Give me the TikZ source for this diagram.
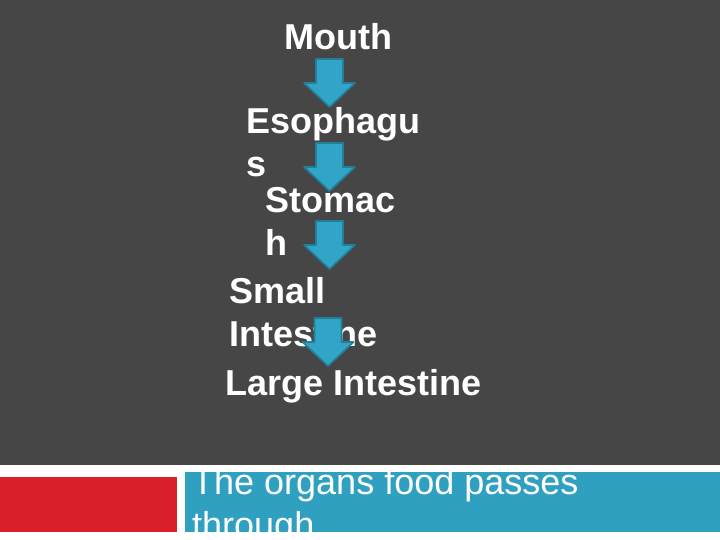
\documentclass[tikz,border=0pt]{standalone}
\usepackage{fontspec}
\setmainfont{Liberation Sans}
\definecolor{slidegray}{HTML}{464646}
\definecolor{arrowblue}{HTML}{31A5C8}
\definecolor{arrowedge}{HTML}{237F99}
\definecolor{barblue}{HTML}{2FA0C0}
\definecolor{barred}{HTML}{D9202A}
\tikzset{
  organ/.style={anchor=base west, inner sep=0pt, text=white, align=left,
    font=\fontsize{36}{43}\selectfont\bfseries},
  caption/.style={anchor=base west, inner sep=0pt, text=white, align=left,
    font=\fontsize{36}{43}\selectfont},
  blockarrow/.pic={
    \draw[fill=arrowblue, draw=arrowedge, line width=1.6pt, line join=round]
      (-13.5,0) -- (13.5,0) -- (13.5,24) -- (25.5,24) -- (0,48)
      -- (-25.5,24) -- (-13.5,24) -- cycle;
  }
}
\begin{document}
\begin{tikzpicture}[x=1pt,y=-1pt]
		\useasboundingbox (0,0) rectangle (720,540);
		%
		\fill[white] (0,0) rectangle (720,540);
		\fill[slidegray] (0,0) rectangle (720,465);
		\fill[barred] (0,477) rectangle (177,532);
		\fill[barblue] (185,472) rectangle (720,532);
		%
		% multi-line nodes: base is the last line
		\node[organ] (mouth) at (284,50) {Mouth};
		\node[organ] (esoph) at (246,177) {Esophagu\\s};
		\node[organ] (stom) at (265,255) {Stomac\\h};
		\node[organ] (small) at (229,346) {Small\\Intestine};
		\node[organ] (large) at (225,395) {Large Intestine};
		%
		\pic at (329.5,59) {blockarrow};
		\pic at (329.5,143) {blockarrow};
		\pic at (329.5,221) {blockarrow};
		\pic at (328,318) {blockarrow};
		%
		\begin{scope}
			\clip (185,465) rectangle (720,532);
			\node[caption] (title) at (192,537) {The organs food passes\\through};
		\end{scope}
\end{tikzpicture}
\end{document}
